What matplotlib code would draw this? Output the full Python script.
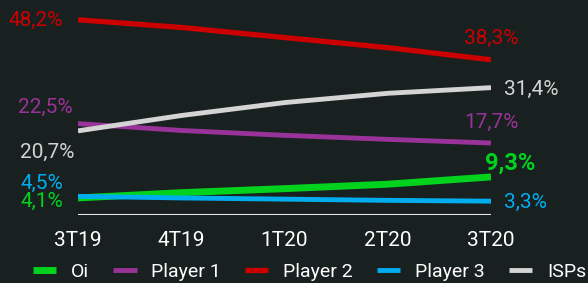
import matplotlib.pyplot as plt

quarters = ['3T19', '4T19', '1T20', '2T20', '3T20']
oi = [4.1, 5.4, 6.4, 7.5, 9.3]
player1 = [22.5, 20.8, 19.6, 18.6, 17.7]
player2 = [48.2, 46.3, 43.8, 41.3, 38.3]
player3 = [4.5, 4.1, 3.8, 3.5, 3.3]
isps = [20.7, 24.5, 27.7, 30.0, 31.4]

bg = '#192020'
plt.rcParams['font.family'] = ['Roboto', 'DejaVu Sans']

fig = plt.figure(figsize=(5.88, 2.83), dpi=100, facecolor=bg)
ax = fig.add_axes([78 / 588, (283 - 214.5) / 283, 413 / 588, 202 / 283], facecolor=bg)
x = list(range(len(quarters)))

series = [
    ('Oi', oi, '#00d21e', 5),
    ('Player 1', player1, '#993399', 3.5),
    ('Player 2', player2, '#cc0000', 3.8),
    ('Player 3', player3, '#00aeef', 3.5),
    ('ISPs', isps, '#d4d4d4', 3.5),
]
for name, vals, col, lw in series:
    ax.plot(x, vals, color=col, lw=lw, label=name, solid_capstyle='butt')

ax.axhline(0, color='#e8e8e8', lw=1.5)
ax.set_xlim(0, 4)
ax.set_ylim(0, 50)
ax.set_xticks(x)
ax.set_xticklabels(quarters, color='white', fontsize=15)
ax.tick_params(axis='x', length=0, pad=12)
ax.set_yticks([])
for s in ax.spines.values():
    s.set_visible(False)


def pct(v):
    return f'{v:.1f}%'.replace('.', ',')


def label(xi, v, col, dx, dy, ha, size=15, weight='normal'):
    ax.annotate(pct(v), (xi, v), xytext=(dx, dy), textcoords='offset pixels',
                color=col, fontsize=size, fontweight=weight, ha=ha, va='center')


# left side labels
label(0, player2[0], '#cc0000', -15, -1, 'right')
label(0, player1[0], '#993399', -5, 16, 'right')
label(0, isps[0], '#d4d4d4', -4, -22, 'right')
label(0, player3[0], '#00aeef', -15, 13, 'right')
label(0, oi[0], '#00d21e', -15, -3, 'right')
# right side labels
label(4, player2[-1], '#cc0000', 0, 21, 'center')
label(4, isps[-1], '#d4d4d4', 13, -2, 'left')
label(4, player1[-1], '#993399', 0, 21, 'center')
label(4, oi[-1], '#00d21e', 19, 14, 'center', size=17, weight='bold')
label(4, player3[-1], '#00aeef', 13, -1, 'left')

handles, names = ax.get_legend_handles_labels()
leg = fig.legend(handles, names, loc='center', bbox_to_anchor=(309.5 / 588, 1 - 272 / 283),
                 ncol=5, frameon=False, fontsize=14, handlelength=1.2,
                 columnspacing=1.25, handletextpad=0.75, borderaxespad=0)
for t in leg.get_texts():
    t.set_color('white')

fig.savefig('out.png', dpi=100, facecolor=bg)
